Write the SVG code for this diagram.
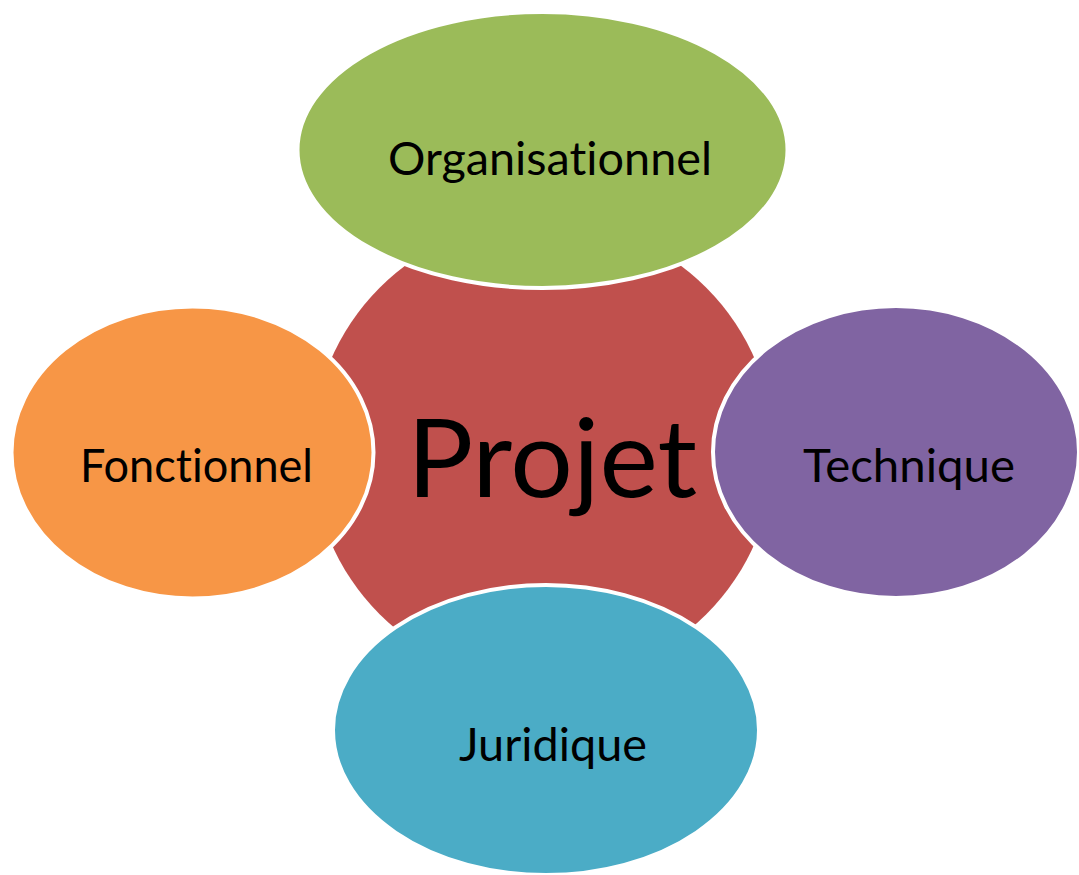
<svg xmlns="http://www.w3.org/2000/svg" width="1079" height="875" viewBox="0 0 1079 875">
<style>
.bub{stroke:#ffffff;stroke-width:4}
.lbl{font-family:Lato,"Open Sans","Liberation Sans",sans-serif;fill:#000000;text-anchor:middle;font-variant-ligatures:none;font-feature-settings:"liga" 0,"clig" 0}
.sm{font-size:46px}
.big{font-size:108px}
</style>
<rect width="1079" height="875" fill="#ffffff"/>
<g id="projet">
<circle cx="543" cy="451" r="231" fill="#C0504D"/>
</g>
<g id="organisationnel">
<ellipse class="bub" cx="542.5" cy="150" rx="245" ry="138" fill="#9BBB59"/>
<text class="lbl sm" x="550" y="175" textLength="324" lengthAdjust="spacingAndGlyphs">Organisationnel</text>
</g>
<g id="fonctionnel">
<ellipse class="bub" cx="192.5" cy="452.5" rx="181" ry="146" fill="#F79646"/>
<text class="lbl sm" x="196.5" y="482" textLength="233" lengthAdjust="spacingAndGlyphs">Fonctionnel</text>
</g>
<g id="technique">
<ellipse class="bub" cx="896" cy="452" rx="183" ry="146" fill="#8064A2"/>
<text class="lbl sm" x="909" y="482" textLength="212" lengthAdjust="spacingAndGlyphs">Technique</text>
</g>
<g id="juridique">
<ellipse class="bub" cx="546" cy="730" rx="213" ry="145" fill="#4BACC6"/>
<text class="lbl sm" x="553" y="761" textLength="188" lengthAdjust="spacingAndGlyphs">Juridique</text>
</g>
<g id="projet-label">
<text class="lbl big" x="552" y="497" textLength="290" lengthAdjust="spacingAndGlyphs">Projet</text>
</g>
</svg>
